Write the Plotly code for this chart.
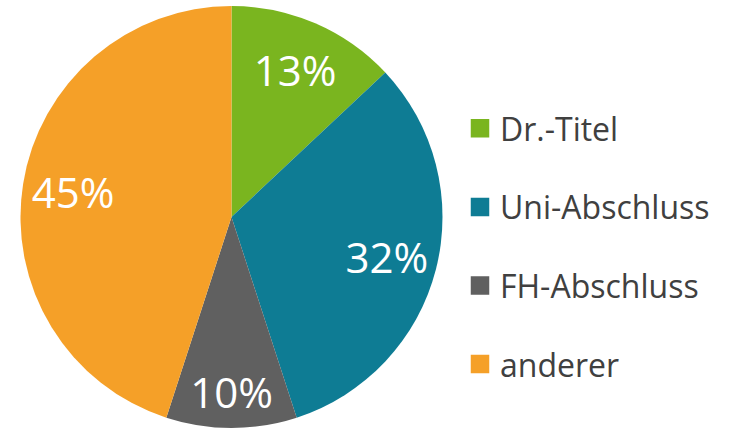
import plotly.graph_objects as go

categories = ["Dr.-Titel", "Uni-Abschluss", "FH-Abschluss", "anderer"]
values = [13, 32, 10, 45]
colors = ["#7AB51F", "#0E7C94", "#606060", "#F5A028"]

FONT = "'Open Sans', sans-serif"
DOMAIN = dict(x=[20.5 / 729, 442.5 / 729], y=[0, 1])

fig = go.Figure()
# visible pie (no text)
fig.add_trace(go.Pie(
    labels=categories,
    values=values,
    sort=False,
    direction="clockwise",
    rotation=0,
    marker=dict(colors=colors, line=dict(width=0)),
    textinfo="none",
    showlegend=False,
    hoverinfo="label+percent",
    domain=DOMAIN,
))
# transparent ring carrying the percentage labels
fig.add_trace(go.Pie(
    labels=categories,
    values=values,
    sort=False,
    direction="clockwise",
    rotation=0,
    hole=0.52,
    marker=dict(colors=["rgba(0,0,0,0)"] * len(values), line=dict(width=0)),
    texttemplate="%{value}%",
    textposition="inside",
    insidetextorientation="horizontal",
    insidetextfont=dict(color="white", size=42, family=FONT),
    showlegend=False,
    hoverinfo="skip",
    domain=DOMAIN,
))

for cat, col in zip(categories, colors):
    fig.add_trace(go.Scatter(
        x=[None], y=[None], mode="markers", name=cat,
        legendgroup=cat,
        marker=dict(symbol="square", size=16, color=col,
                    line=dict(color=col, width=2.5)),
    ))

fig.update_layout(
    width=729, height=428,
    margin=dict(l=0, r=0, t=6, b=0),
    paper_bgcolor="white",
    plot_bgcolor="white",
    xaxis=dict(visible=False),
    yaxis=dict(visible=False),
    uniformtext=dict(minsize=42, mode="show"),
    legend=dict(
        x=460 / 729, xanchor="left",
        y=(428 - 246.5) / 422, yanchor="middle",
        font=dict(size=32, color="#404040", family=FONT),
        tracegroupgap=34,
        traceorder="grouped",
        itemsizing="trace",
        bgcolor="rgba(0,0,0,0)",
    ),
)

fig.write_html(
    "out.html",
    config={"displayModeBar": False},
    post_script="document.body.style.margin='0';document.body.style.overflow='hidden';",
)
